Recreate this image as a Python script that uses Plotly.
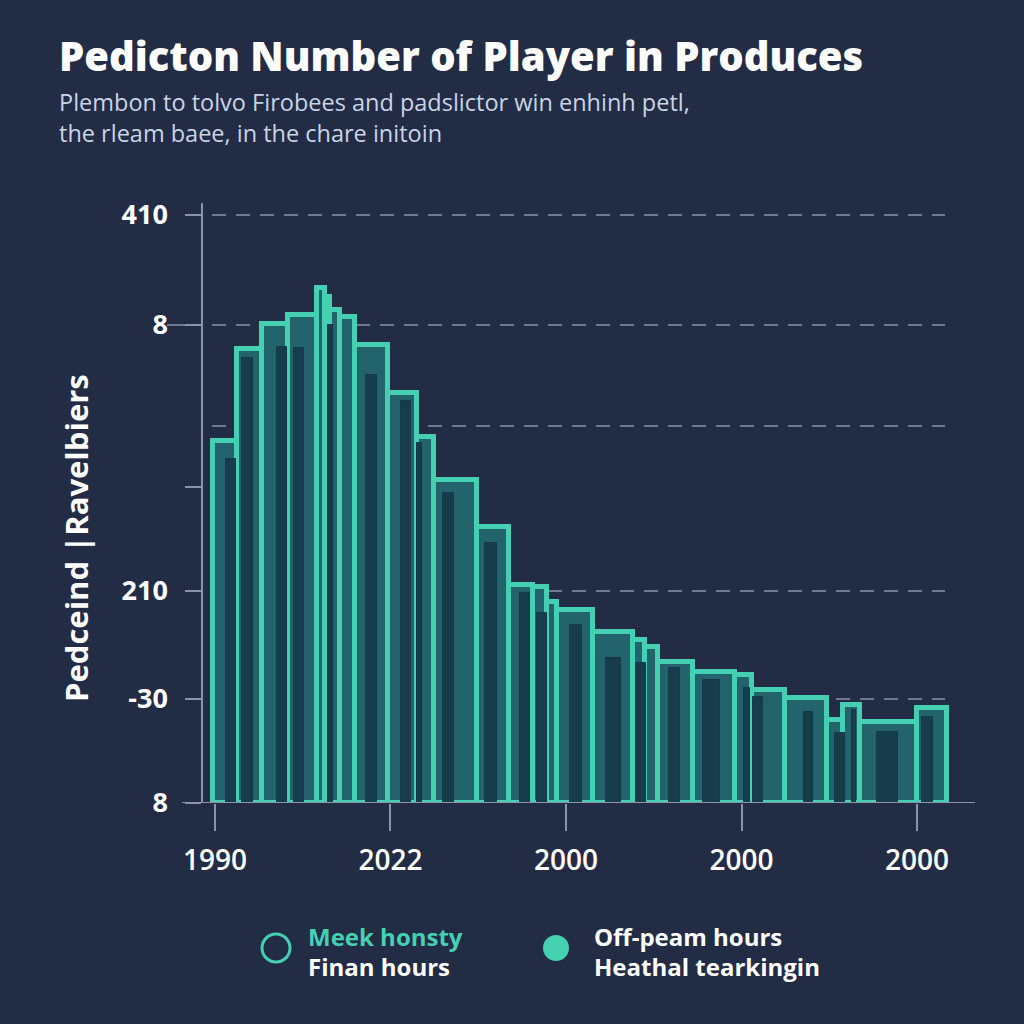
import plotly.graph_objects as go

# ---- data ----
bin_start = [-0.11, 1.25, 2.68, 4.16, 5.81, 6.27, 6.55, 7.12, 7.98, 9.86, 11.51, 12.48, 14.93, 16.75,
             18.12, 18.92, 19.49, 21.54, 23.82, 24.50, 25.24, 27.24, 29.63, 30.60, 32.48, 34.87,
             35.78, 36.75, 40.00]
bin_end = [1.25, 2.68, 4.16, 5.81, 6.27, 6.55, 7.12, 7.98, 9.86, 11.51, 12.48, 14.93, 16.75, 18.12,
           18.92, 19.49, 21.54, 23.82, 24.50, 25.24, 27.24, 29.63, 30.60, 32.48, 34.87, 35.78,
           36.75, 40.00, 41.71]
peak_values = [36.2, 45.4, 47.9, 48.8, 51.5, 50.6, 49.3, 48.6, 45.8, 41.0, 36.6, 32.3, 27.6, 21.8,
               21.6, 20.1, 19.3, 17.1, 16.3, 15.6, 14.1, 13.1, 12.8, 11.3, 10.5, 8.3, 9.8, 8.1, 9.5]

off_start = [0.63, 1.54, 3.53, 4.50, 6.44, 8.60, 10.60, 11.51, 12.99, 15.38, 17.38, 18.35, 20.23,
             22.28, 23.99, 25.87, 27.81, 30.14, 30.66, 33.56, 35.33, 36.30, 37.72, 40.28]
off_end = [1.20, 2.17, 4.10, 5.07, 6.72, 9.23, 11.17, 11.79, 13.62, 16.07, 17.95, 18.92, 20.91,
           23.13, 24.56, 26.50, 28.77, 30.48, 31.23, 34.07, 35.90, 36.52, 38.92, 40.91]
off_values = [34.4, 44.5, 45.6, 45.5, 47.8, 42.8, 40.2, 36.0, 31.0, 26.0, 21.0, 19.0, 17.8,
              14.5, 14.0, 13.5, 12.3, 11.5, 10.6, 9.1, 7.0, 9.3, 7.1, 8.6]

x_tickvals = [0, 10, 20, 30, 40]
x_ticktext = ["1990", "2022", "2000", "2000", "2000"]
y_tickvals = [58.8, 47.8, 31.6, 21.2, 10.4, 0]
y_ticktext = ["410", "8", "", "210", "-30", "8"]
grid_values = [58.8, 47.8, 37.7, 21.2, 10.4]

title = "Pedicton Number of Player in Produces"
subtitle1 = "Plembon to tolvo Firobees and padslictor win enhinh petl,"
subtitle2 = "the rleam baee, in the chare initoin"
y_title = "Pedceind |Ravelbiers"
legend_a = ("Meek honsty", "Finan hours")
legend_b = ("Off-peam hours", "Heathal tearkingin")

# ---- style ----
BG = "#222c44"
TEAL = "#45d0b2"
FILL = "#23636c"
DARK = "#173d4d"
GRID = "#8794aa"
FONT = "Open Sans"
W = 1024
PL, PR, PT, PB = 203, 975, 203, 803


def px_x(px):
    return (px - PL) / (PR - PL)


def px_y(py):
    return (PB - py) / (PB - PT)


fig = go.Figure()
fig.add_trace(go.Bar(
    x=[(a + b) / 2 for a, b in zip(bin_start, bin_end)],
    width=[b - a for a, b in zip(bin_start, bin_end)],
    y=peak_values,
    marker=dict(color=FILL, line=dict(color=TEAL, width=5)),
    showlegend=False, hoverinfo="skip",
))
fig.add_trace(go.Bar(
    x=[(a + b) / 2 for a, b in zip(off_start, off_end)],
    width=[b - a for a, b in zip(off_start, off_end)],
    y=off_values,
    marker=dict(color=DARK, line=dict(color="#14384a", width=1)),
    showlegend=False, hoverinfo="skip",
))

shapes = []
for g in grid_values:
    shapes.append(dict(type="line", xref="paper", yref="y", x0=px_x(212), x1=px_x(945), y0=g, y1=g,
                       line=dict(color=GRID, width=1.5, dash="14px,10px"), layer="below"))
# extended baseline
shapes.append(dict(type="line", xref="paper", yref="y", x0=px_x(182), x1=1, y0=0, y1=0,
                   line=dict(color=GRID, width=2), layer="above"))
# longer tick at second level
shapes.append(dict(type="line", xref="paper", yref="y", x0=px_x(167), x1=px_x(203), y0=47.8, y1=47.8,
                   line=dict(color=GRID, width=1.5)))
# legend icons
shapes.append(dict(type="circle", xref="paper", yref="paper",
                   x0=px_x(262), x1=px_x(290), y0=px_y(962), y1=px_y(934),
                   line=dict(color=TEAL, width=3), fillcolor="rgba(0,0,0,0)"))
shapes.append(dict(type="circle", xref="paper", yref="paper",
                   x0=px_x(543), x1=px_x(569), y0=px_y(961), y1=px_y(935),
                   line=dict(color=TEAL, width=0), fillcolor=TEAL))

ann = []
ann.append(dict(text=title, x=px_x(57), y=px_y(56), xref="paper", yref="paper",
                xanchor="left", yanchor="middle", showarrow=False,
                font=dict(family=FONT, size=40, weight=800, color="#ffffff")))
ann.append(dict(text=subtitle1, x=px_x(57), y=px_y(102), xref="paper", yref="paper",
                xanchor="left", yanchor="middle", showarrow=False,
                font=dict(family=FONT, size=23.5, weight=400, color="#c9d4e6")))
ann.append(dict(text=subtitle2, x=px_x(57), y=px_y(133), xref="paper", yref="paper",
                xanchor="left", yanchor="middle", showarrow=False,
                font=dict(family=FONT, size=23.5, weight=400, color="#c9d4e6")))
ann.append(dict(text=y_title, x=px_x(76), y=px_y(538), xref="paper", yref="paper",
                xanchor="center", yanchor="middle", showarrow=False, textangle=-90,
                font=dict(family=FONT, size=31, weight=700, color="#ffffff")))
for (l1, l2), xx, c1 in [(legend_a, 306, TEAL), (legend_b, 592, "#ffffff")]:
    ann.append(dict(text=l1, x=px_x(xx), y=px_y(936), xref="paper", yref="paper",
                    xanchor="left", yanchor="middle", showarrow=False,
                    font=dict(family=FONT, size=24, weight=700, color=c1)))
    ann.append(dict(text=l2, x=px_x(xx), y=px_y(966), xref="paper", yref="paper",
                    xanchor="left", yanchor="middle", showarrow=False,
                    font=dict(family=FONT, size=24, weight=700, color="#ffffff")))

fig.update_layout(
    width=W, height=W,
    paper_bgcolor=BG, plot_bgcolor=BG,
    margin=dict(l=PL, r=W - PR, t=PT, b=W - PB),
    barmode="overlay", bargap=0,
    shapes=shapes, annotations=ann,
    xaxis=dict(range=[-0.68, 43.3], tickvals=x_tickvals, ticktext=x_ticktext,
               showgrid=False, zeroline=False, showline=False,
               ticks="outside", ticklen=27, tickwidth=1.5, tickcolor=GRID, ticklabelstandoff=5,
               tickfont=dict(family=FONT, size=28, weight=600, color="#ffffff")),
    yaxis=dict(range=[0, 60], tickvals=y_tickvals, ticktext=y_ticktext,
               showgrid=False, zeroline=False, showline=True, linecolor=GRID, linewidth=1.5,
               ticks="outside", ticklen=16, tickwidth=1.5, tickcolor=GRID, ticklabelstandoff=12,
               tickfont=dict(family=FONT, size=27, weight=700, color="#ffffff")),
)

fig.write_html("out.html", config={"displayModeBar": False},
               post_script="document.body.style.margin='0';")
